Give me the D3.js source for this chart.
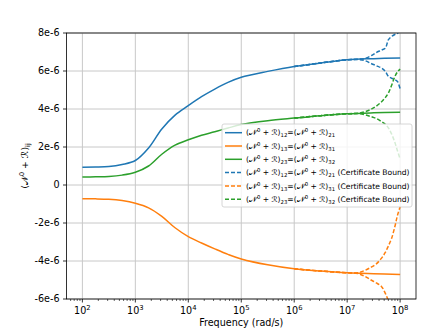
<!DOCTYPE html>
<html><head><meta charset="utf-8">
<script src="https://cdn.jsdelivr.net/npm/d3@7"></script>
<style>
html,body{margin:0;padding:0;background:#fff;}
svg{display:block;font-family:"DejaVu Sans",sans-serif;}
</style></head>
<body><svg id="c" width="443" height="332"></svg>
<script>
// ---- data (values in units of 1e-6) ----
const freqExp = [2, 2.25, 2.5, 2.75, 3, 3.25, 3.5, 3.75, 4, 4.25, 4.5, 4.75, 5, 5.5, 6, 6.5, 7, 7.5, 8];
const val12 = [0.94,0.945,0.97,1.08,1.29,1.95,2.95,3.68,4.18,4.65,5.05,5.4,5.67,5.98,6.24,6.42,6.59,6.65,6.69];
const val13 = [-0.73,-0.73,-0.75,-0.82,-0.96,-1.2,-1.65,-2.25,-2.72,-3.05,-3.36,-3.65,-3.89,-4.2,-4.41,-4.53,-4.62,-4.67,-4.71];
const val23 = [0.42,0.43,0.45,0.52,0.67,1.0,1.62,2.1,2.38,2.62,2.8,3.0,3.18,3.38,3.52,3.65,3.75,3.8,3.83];

const boundExp = [6, 6.5, 7, 7.2, 7.33, 7.45, 7.55, 7.65, 7.72, 7.78, 7.84, 7.9, 7.95, 8];
const bound12Up = [6.24,6.42,6.59,6.62,6.66,6.8,6.97,7.1,7.2,7.65,7.82,7.92,7.98,8.3];
const bound12Lo = [6.24,6.42,6.59,6.6,6.55,6.4,6.28,6.15,5.98,5.72,5.62,5.55,5.45,5.06];
const bound13Up = [-4.41,-4.53,-4.62,-4.62,-4.5,-4.33,-4.15,-3.85,-3.55,-3.2,-2.8,-2.2,-1.6,-1.15];
const bound13Lo = [-4.41,-4.53,-4.62,-4.66,-4.8,-5.0,-5.15,-5.35,-5.7,-6.1,-6.5,-6.9,-7.3,-7.7];
const bound23Up = [3.52,3.65,3.75,3.77,3.85,3.98,4.15,4.38,4.6,4.85,5.25,5.7,5.95,6.1];
const bound23Lo = [3.52,3.65,3.75,3.76,3.7,3.6,3.5,3.33,3.2,3.0,2.68,2.25,1.8,1.38];

const yTicks = [-6,-4,-2,0,2,4,6,8];
const yTickLabels = ["-6e-6","-4e-6","-2e-6","0","2e-6","4e-6","6e-6","8e-6"];
const xTickExp = [2,3,4,5,6,7,8];
const colors = {c12:"#1f77b4", c13:"#ff7f0e", c23:"#2ca02c"};

// ---- layout ----
const L=66.5, R=416, T=33, B=299;
const svg = d3.select("#c");
const x = d3.scaleLog().domain([Math.pow(10,1.7), Math.pow(10,8.3)]).range([L,R]);
const y = d3.scaleLinear().domain([-6,8]).range([B,T]);

svg.append("defs").append("clipPath").attr("id","clip")
  .append("rect").attr("x",L).attr("y",T).attr("width",R-L).attr("height",B-T);

// grid
const g = svg.append("g");
xTickExp.forEach(e=>{
  g.append("line").attr("x1",x(Math.pow(10,e))).attr("x2",x(Math.pow(10,e)))
   .attr("y1",T).attr("y2",B).attr("stroke","#c8c8c8").attr("stroke-width",1);
});
yTicks.forEach(v=>{
  g.append("line").attr("x1",L).attr("x2",R).attr("y1",y(v)).attr("y2",y(v))
   .attr("stroke","#c8c8c8").attr("stroke-width",1);
});

// lines
const line = d3.line().x(d=>x(Math.pow(10,d[0]))).y(d=>y(d[1])).curve(d3.curveCatmullRom.alpha(0.5));
const plot = svg.append("g").attr("clip-path","url(#clip)");
function solid(vals,col){
  plot.append("path").attr("d",line(freqExp.map((e,i)=>[e,vals[i]])))
    .attr("fill","none").attr("stroke",col).attr("stroke-width",1.5);
}
function dashed(vals,col){
  plot.append("path").attr("d",line(boundExp.map((e,i)=>[e,vals[i]])))
    .attr("fill","none").attr("stroke",col).attr("stroke-width",1.5).attr("stroke-dasharray","4,2");
}
solid(val12,colors.c12); solid(val13,colors.c13); solid(val23,colors.c23);
dashed(bound12Up,colors.c12); dashed(bound12Lo,colors.c12);
dashed(bound13Up,colors.c13); dashed(bound13Lo,colors.c13);
dashed(bound23Up,colors.c23); dashed(bound23Lo,colors.c23);

// axes frame
svg.append("rect").attr("x",L).attr("y",T).attr("width",R-L).attr("height",B-T)
  .attr("fill","none").attr("stroke","#000").attr("stroke-width",0.8);

// x ticks
const xa = svg.append("g");
for(let e=1;e<=8;e++){
  for(let m=1;m<10;m++){
    const v = m*Math.pow(10,e);
    if(v<x.domain()[0]||v>x.domain()[1]) continue;
    const px = x(v);
    const len = m===1?3.5:2;
    xa.append("line").attr("x1",px).attr("x2",px).attr("y1",B).attr("y2",B+len)
      .attr("stroke","#000").attr("stroke-width",m===1?0.8:0.6);
  }
}
xTickExp.forEach(e=>{
  const t = xa.append("text").attr("x",x(Math.pow(10,e))).attr("y",313.5)
    .attr("text-anchor","middle").attr("font-size",9.6).attr("fill","#000");
  t.append("tspan").text("10");
  t.append("tspan").attr("dy",-4).attr("font-size",6.8).text(String(e));
});
svg.append("text").attr("x",(L+R)/2).attr("y",326).attr("text-anchor","middle")
  .attr("font-size",9.6).text("Frequency (rad/s)");

// y ticks
yTicks.forEach((v,i)=>{
  svg.append("line").attr("x1",L-3.5).attr("x2",L).attr("y1",y(v)).attr("y2",y(v))
    .attr("stroke","#000").attr("stroke-width",0.8);
  svg.append("text").attr("x",59.5).attr("y",y(v)+3.4).attr("text-anchor","end")
    .attr("font-size",9.6).text(yTickLabels[i]);
});

// y label
const yfs = 9.4;
const yl = svg.append("text").attr("transform","translate(28,166) rotate(-90)")
  .attr("text-anchor","middle").attr("font-size",yfs);
yl.append("tspan").text("(𝒩");
yl.append("tspan").attr("dy",-yfs*0.4).attr("font-size",yfs*0.7).text("0");
yl.append("tspan").attr("dy",yfs*0.4).text(" + ℛ)");
yl.append("tspan").attr("dy",yfs*0.25).attr("font-size",yfs*0.7).text("ij");

// legend
const legItems = [
  {a:"12",b:"21",col:colors.c12,dash:false,cert:false},
  {a:"13",b:"31",col:colors.c13,dash:false,cert:false},
  {a:"23",b:"32",col:colors.c23,dash:false,cert:false},
  {a:"12",b:"21",col:colors.c12,dash:true,cert:true},
  {a:"13",b:"31",col:colors.c13,dash:true,cert:true},
  {a:"23",b:"32",col:colors.c23,dash:true,cert:true}
];
const lg = svg.append("g");
lg.append("rect").attr("x",222).attr("y",124).attr("width",190).attr("height",83)
  .attr("rx",2).attr("fill","#fff").attr("fill-opacity",0.8).attr("stroke","#cccccc").attr("stroke-width",0.8);
const fs=7.6;
legItems.forEach((d,i)=>{
  const yy = 132.7 + i*13.3;
  lg.append("line").attr("x1",225).attr("x2",242).attr("y1",yy).attr("y2",yy)
    .attr("stroke",d.col).attr("stroke-width",1.5).attr("stroke-dasharray",d.dash?"4,2":null);
  const t = lg.append("text").attr("x",246).attr("y",yy+2.7).attr("font-size",fs);
  t.append("tspan").text("(𝒩");
  t.append("tspan").attr("dy",-fs*0.4).attr("font-size",fs*0.7).text("0");
  t.append("tspan").attr("dy",fs*0.4).text(" + ℛ)");
  t.append("tspan").attr("dy",fs*0.25).attr("font-size",fs*0.7).text(d.a);
  t.append("tspan").attr("dy",-fs*0.25).text("=(𝒩");
  t.append("tspan").attr("dy",-fs*0.4).attr("font-size",fs*0.7).text("0");
  t.append("tspan").attr("dy",fs*0.4).text(" + ℛ)");
  t.append("tspan").attr("dy",fs*0.25).attr("font-size",fs*0.7).text(d.b);
  if(d.cert) t.append("tspan").attr("dy",-fs*0.25).text(" (Certificate Bound)");
});
</script></body></html>
